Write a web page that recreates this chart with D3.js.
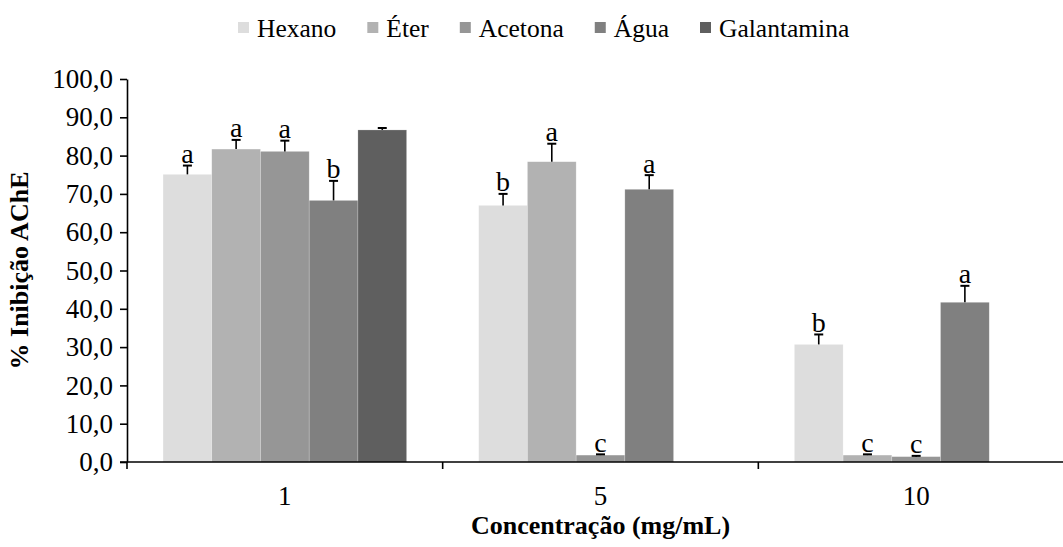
<!DOCTYPE html>
<html>
<head>
<meta charset="utf-8">
<script src="https://cdn.jsdelivr.net/npm/d3@7"></script>
<style>
  html, body { margin: 0; padding: 0; background: #fff; }
  svg { display: block; font-family: "Liberation Serif", "Times New Roman", serif; }
</style>
</head>
<body>
<svg id="chart" width="1063" height="547"></svg>
<script>
// Concentrations (mg/mL)
const categories = ["1", "5", "10"];
const series = ["Hexano", "Éter", "Acetona", "Água", "Galantamina"];

// Mean % AChE inhibition per extract, by concentration
const hexano      = [75.1, 67.0, 30.7];
const eter        = [81.7, 78.4, 1.8];
const acetona     = [81.1, 1.8, 1.4];
const agua        = [68.3, 71.2, 41.7];
const galantamina = [86.7, null, null];

// Standard deviations
const hexanoSd      = [2.3, 3.0, 2.6];
const eterSd        = [2.4, 4.7, 0.2];
const acetonaSd     = [2.8, 0.2, 0.2];
const aguaSd        = [5.1, 3.7, 4.3];
const galantaminaSd = [0.5, null, null];

// Significance letters
const hexanoLet      = ["a", "b", "b"];
const eterLet        = ["a", "a", "c"];
const acetonaLet     = ["a", "c", "c"];
const aguaLet        = ["b", "a", "a"];
const galantaminaLet = ["", null, null];

const yTicks = [0, 10, 20, 30, 40, 50, 60, 70, 80, 90, 100];
const colors = ["#dddddd", "#b2b2b2", "#969696", "#808080", "#5f5f5f"];

const values = [hexano, eter, acetona, agua, galantamina];
const sds = [hexanoSd, eterSd, acetonaSd, aguaSd, galantaminaSd];
const lets = [hexanoLet, eterLet, acetonaLet, aguaLet, galantaminaLet];

const rows = [];
series.forEach((s, si) => {
  categories.forEach((c, ci) => {
    if (values[si][ci] == null) return;
    rows.push({ series: s, cat: c, v: values[si][ci], sd: sds[si][ci], letter: lets[si][ci] });
  });
});

const svg = d3.select("#chart");
const plot = { left: 127, right: 1074, top: 79, bottom: 462 };

const x0 = d3.scaleBand().domain(categories).range([plot.left, plot.right]).paddingInner(0).paddingOuter(0);
const x1 = d3.scaleBand().domain(series).range([0, x0.bandwidth()]).paddingInner(0).paddingOuter(0.74);
const y = d3.scaleLinear().domain([0, 100]).range([plot.bottom, plot.top]);
const color = d3.scaleOrdinal().domain(series).range(colors);

// bars
svg.append("g").selectAll("rect").data(rows).join("rect")
  .attr("x", d => x0(d.cat) + x1(d.series))
  .attr("width", x1.bandwidth())
  .attr("y", d => y(d.v))
  .attr("height", d => y(0) - y(d.v))
  .attr("fill", d => color(d.series))
  .attr("stroke", "#ffffff")
  .attr("stroke-opacity", 0.35)
  .attr("stroke-width", 0.6);

// error bars (upper only)
const err = svg.append("g").attr("stroke", "#000").attr("stroke-width", 1.6);
rows.forEach(d => {
  const cx = x0(d.cat) + x1(d.series) + x1.bandwidth() / 2;
  err.append("line").attr("x1", cx).attr("x2", cx).attr("y1", y(d.v)).attr("y2", y(d.v + d.sd));
  err.append("line").attr("x1", cx - 4.5).attr("x2", cx + 4.5).attr("y1", y(d.v + d.sd)).attr("y2", y(d.v + d.sd))
    .attr("stroke-width", 2);
});

// significance letters
svg.append("g").selectAll("text").data(rows.filter(d => d.letter)).join("text")
  .attr("x", d => x0(d.cat) + x1(d.series) + x1.bandwidth() / 2)
  .attr("y", d => y(d.v + d.sd) - 2.5)
  .attr("text-anchor", "middle")
  .attr("font-size", 28)
  .attr("fill", "#000")
  .text(d => d.letter);

// y axis
const yAxis = d3.axisLeft(y).tickValues(yTicks).tickSizeInner(7).tickSizeOuter(0)
  .tickPadding(7)
  .tickFormat(d => d3.format(".1f")(d).replace(".", ","));
const gy = svg.append("g").attr("transform", `translate(${plot.left},0)`).call(yAxis);
gy.select(".domain").attr("stroke", "#000").attr("stroke-width", 1.6);
gy.selectAll(".tick line").attr("stroke", "#000").attr("stroke-width", 1.6);
gy.selectAll(".tick text").attr("font-size", 27).attr("font-family", "Liberation Serif").attr("fill", "#000");

// x axis: labels at band centres, tick marks at band boundaries
const gx = svg.append("g").attr("transform", `translate(0,${plot.bottom})`);
gx.append("line").attr("x1", plot.left - 7).attr("x2", plot.right).attr("y1", 0).attr("y2", 0)
  .attr("stroke", "#000").attr("stroke-width", 1.6);
const bounds = categories.map(c => x0(c)).concat([plot.right]);
gx.selectAll("line.b").data(bounds).join("line").attr("class", "b")
  .attr("x1", d => d).attr("x2", d => d).attr("y1", 0).attr("y2", 7)
  .attr("stroke", "#000").attr("stroke-width", 1.6);
gx.selectAll("text").data(categories).join("text")
  .attr("x", d => x0(d) + x0.bandwidth() / 2)
  .attr("y", 43)
  .attr("text-anchor", "middle")
  .attr("font-size", 27)
  .attr("fill", "#000")
  .text(d => d);

// axis titles
svg.append("text")
  .attr("x", x0("5") + x0.bandwidth() / 2).attr("y", 534)
  .attr("text-anchor", "middle").attr("font-size", 26).attr("font-weight", "bold")
  .text("Concentração (mg/mL)");
svg.append("text")
  .attr("transform", `translate(28,${(plot.top + plot.bottom) / 2}) rotate(-90)`)
  .attr("text-anchor", "middle").attr("font-size", 26).attr("font-weight", "bold")
  .text("% Inibição AChE");

// legend
const legend = svg.append("g");
let lx = 238;
series.forEach((s, i) => {
  const g = legend.append("g");
  g.append("rect").attr("x", lx).attr("y", 22).attr("width", 11).attr("height", 11).attr("fill", colors[i]);
  const t = g.append("text").attr("x", lx + 19).attr("y", 37).attr("font-size", 25.5).attr("fill", "#000").text(s);
  lx += 19 + t.node().getComputedTextLength() + 31;
});
</script>
</body>
</html>
